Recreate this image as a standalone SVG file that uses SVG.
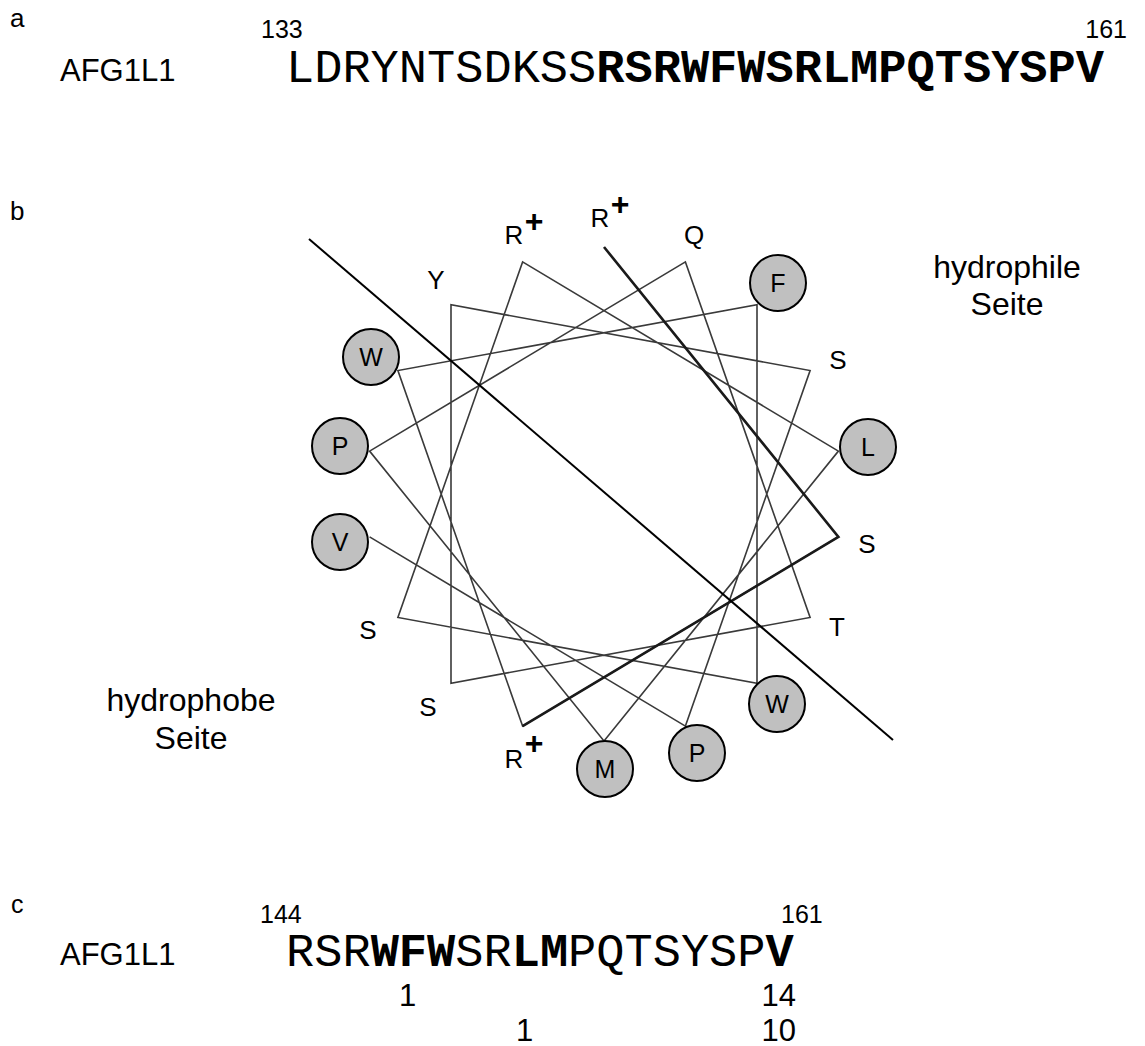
<svg xmlns="http://www.w3.org/2000/svg" width="1145" height="1046" viewBox="0 0 1145 1046">
<style>
.sans{font-family:"Liberation Sans",Arial,sans-serif;fill:#000}
.mono{font-family:"Liberation Mono","Courier New",monospace;fill:#000;font-size:47px}
.b{font-weight:bold}
.lab{font-size:26px;text-anchor:middle}
.cl{font-size:25px;text-anchor:middle}
.plus{font-size:32px;font-weight:bold;text-anchor:middle}
.res circle{fill:#c0c0c0;stroke:#000;stroke-width:2}
.thin{fill:none;stroke:#3a3a3a;stroke-width:1.6;stroke-linejoin:miter}
.thick{fill:none;stroke:#1a1a1a;stroke-width:2.6}
</style>
<rect width="1145" height="1046" fill="#fff"/>

<!-- panel a -->
<g id="panel-a">
<text class="sans" x="10" y="27" font-size="26">a</text>
<text class="sans" x="261" y="38" font-size="25">133</text>
<text class="sans" x="1127" y="38" font-size="25" text-anchor="end">161</text>
<text class="sans" x="60" y="81" font-size="31">AFG1L1</text>
<text class="mono" x="286" y="82">LDRYNTSDKSS<tspan class="b">RSRWFWSRLMPQTSYSPV</tspan></text>
</g>

<!-- panel b -->
<text class="sans" x="10" y="220" font-size="26">b</text>

<g id="connectors">
<polyline class="thin" points="838.4,536.9 522.6,726.1 397.9,370.5 757,304.8 757,683.2 397.9,617.5 522.6,261.9 838.4,451.1 604,741 369.6,451.1 685.4,261.9 810.1,617.5 451,683.2 451,304.8 810.1,370.5 685.4,726.1 369.6,536.9"/>
<polyline class="thick" points="604,247 838.4,536.9 522.6,726.1"/>
<line id="axis" x1="309" y1="239" x2="893" y2="740" stroke="#000" stroke-width="2"/>
</g>

<g id="R144"><text class="sans lab" x="600" y="227">R</text><text class="sans plus" x="620" y="215">+</text></g>
<g id="Q155"><text class="sans lab" x="694" y="244">Q</text></g>
<g id="F148" class="res"><circle cx="778" cy="283" r="28"/><text class="sans cl" x="778" y="292">F</text></g>
<g id="S159"><text class="sans lab" x="838" y="369">S</text></g>
<g id="L152" class="res"><circle cx="868" cy="447" r="28"/><text class="sans cl" x="868" y="456">L</text></g>
<g id="S145"><text class="sans lab" x="867" y="553">S</text></g>
<g id="T156"><text class="sans lab" x="837" y="636">T</text></g>
<g id="W149" class="res"><circle cx="777" cy="704" r="28"/><text class="sans cl" x="777" y="713">W</text></g>
<g id="P160" class="res"><circle cx="697" cy="753" r="28"/><text class="sans cl" x="697" y="762">P</text></g>
<g id="M153" class="res"><circle cx="605" cy="769" r="28"/><text class="sans cl" x="605" y="778">M</text></g>
<g id="R146"><text class="sans lab" x="514" y="768">R</text><text class="sans plus" x="534" y="754">+</text></g>
<g id="S157"><text class="sans lab" x="428" y="716">S</text></g>
<g id="S150"><text class="sans lab" x="368" y="639">S</text></g>
<g id="V161" class="res"><circle cx="340" cy="542" r="28"/><text class="sans cl" x="340" y="551">V</text></g>
<g id="P154" class="res"><circle cx="340" cy="446" r="28"/><text class="sans cl" x="340" y="455">P</text></g>
<g id="W147" class="res"><circle cx="371" cy="357" r="28"/><text class="sans cl" x="371" y="366">W</text></g>
<g id="Y158"><text class="sans lab" x="436" y="289">Y</text></g>
<g id="R151"><text class="sans lab" x="514" y="244">R</text><text class="sans plus" x="534" y="232">+</text></g>

<g id="hydrophile">
<text class="sans" font-size="32" text-anchor="middle" x="1007" y="278">hydrophile</text>
<text class="sans" font-size="32" text-anchor="middle" x="1007" y="315">Seite</text>
</g>
<g id="hydrophobe">
<text class="sans" font-size="32" text-anchor="middle" x="191" y="711">hydrophobe</text>
<text class="sans" font-size="32" text-anchor="middle" x="191" y="749">Seite</text>
</g>

<!-- panel c -->
<g id="panel-c">
<text class="sans" x="11" y="913" font-size="25">c</text>
<text class="sans" x="260" y="923" font-size="25">144</text>
<text class="sans" x="781" y="923" font-size="25">161</text>
<text class="sans" x="60" y="965" font-size="31">AFG1L1</text>
<text class="mono" x="286" y="966">RSR<tspan class="b">WFW</tspan>SR<tspan class="b">LM</tspan>PQTSYSP<tspan class="b">V</tspan></text>
<text class="sans" x="399" y="1006" font-size="31">1</text>
<text class="sans" x="796" y="1006" font-size="31" text-anchor="end">14</text>
<text class="sans" x="516" y="1041" font-size="31">1</text>
<text class="sans" x="796" y="1041" font-size="31" text-anchor="end">10</text>
</g>
</svg>
